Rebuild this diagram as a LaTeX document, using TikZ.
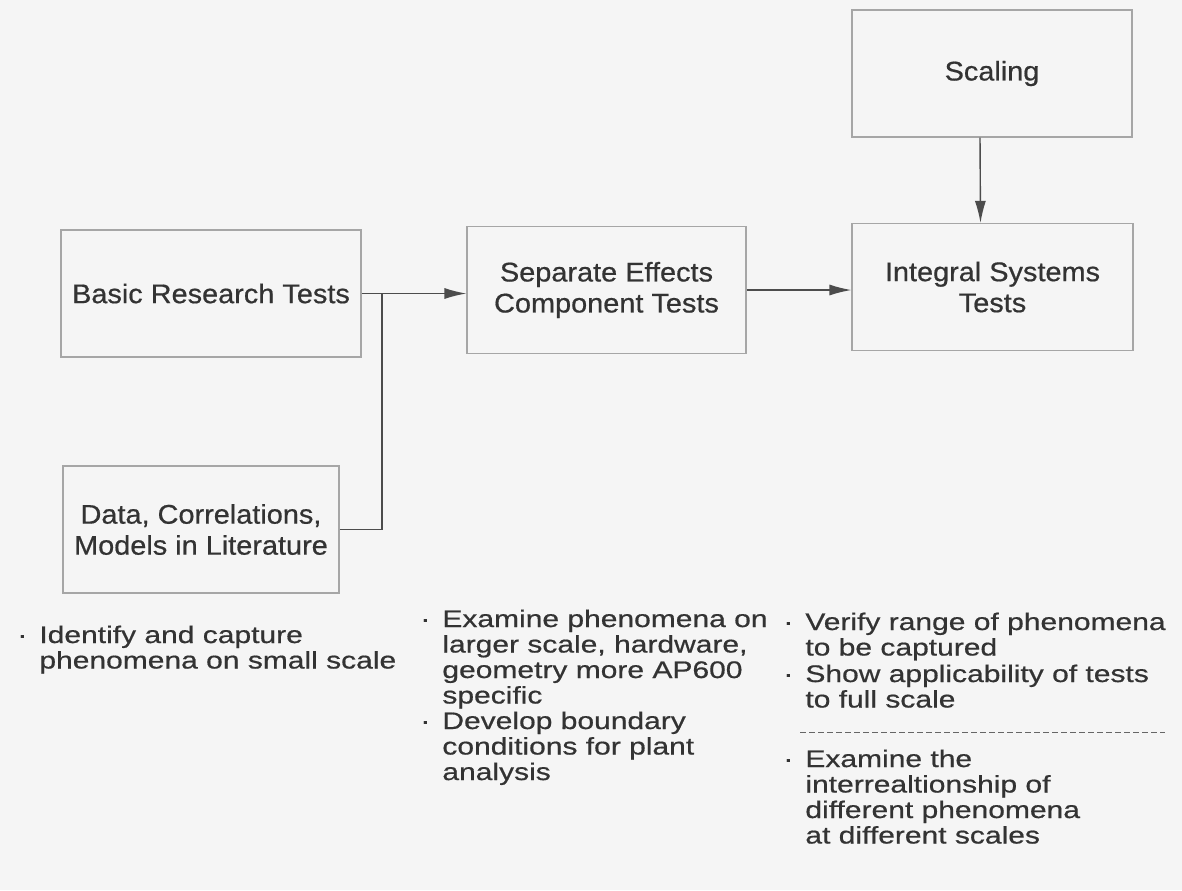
\documentclass[tikz,border=0pt]{standalone}
\usepackage{fontspec}
\setmainfont{Liberation Sans}
\newfontfamily\boxfont{Liberation Sans}[FakeStretch=1.07,FakeBold=0.6]
\newfontfamily\notefont{Liberation Sans}[FakeStretch=1.25,FakeBold=0.6]
\usetikzlibrary{arrows.meta,calc}
\newcommand{\bitem}[1]{\begin{tabular}[t]{@{}l@{\hspace{6pt}}l@{}}·&#1\end{tabular}}
\tikzset{
  stage/.style={draw=black!35, line width=0.55pt, minimum width=#1, minimum height=63.5pt,
    inner sep=0pt, align=center, text=black!80, font=\boxfont\fontsize{13.5}{15.5}\selectfont},
  note/.style={anchor=base west, inner sep=0pt, text=black!80,
    font=\notefont\fontsize{12}{12.75}\selectfont},
  flow/.style={draw=black!70, line width=0.7pt, -{Latex[length=11pt,width=5.5pt]}},
  feed/.style={draw=black!70, line width=0.7pt},
  sepline/.style={draw=black!60, line width=0.5pt, dash pattern=on 3pt off 1.5pt}
}
\begin{document}
\begin{tikzpicture}[x=0.5pt,y=-0.5pt]
    \fill[black!4] (0,0) rectangle (1182,890);
    \useasboundingbox (0,0) rectangle (1182,890);

    \node[stage=140pt] (scal) at (992,73.5) {Scaling};
    \node[stage=140.5pt] (ist) at (992.5,287) {Integral Systems\\Tests};
    \node[stage=139.5pt] (set) at (606.5,290) {Separate Effects\\Component Tests};
    \node[stage=150pt] (brt) at (211,293.5) {Basic Research Tests};
    \node[stage=138pt] (dcm) at (201,529.5) {Data, Correlations,\\Models in Literature};
    \coordinate (jn) at (382,293.5);

    \draw[flow] (brt.east) -- (brt.east -| set.west);
    \draw[feed] (dcm.east) -| (jn);
    \draw[flow] (set.east) -- (set.east -| ist.west);
    \draw[flow] ($(scal.south)+(-12,0)$) -- ($(ist.north)+(-12,0)$);

    \node[note] (n1) at (17,643) {\bitem{Identify and capture\\&phenomena on small scale}};
    \node[note] (n2) at (420,627) {\bitem{Examine phenomena on\\&larger scale, hardware,\\&geometry more AP600\\&specific}};
    \node[note] (n3) at (420,729) {\bitem{Develop boundary\\&conditions for plant\\&analysis}};
    \node[note] (n4) at (783,630) {\bitem{Verify range of phenomena\\&to be captured}};
    \node[note] (n5) at (783,682) {\bitem{Show applicability of tests\\&to full scale}};
    \draw[sepline] (800,732) -- (1165,732);
    \node[note] (n6) at (783,767) {\bitem{Examine the\\&interrealtionship of\\&different phenomena\\&at different scales}};
\end{tikzpicture}
\end{document}
